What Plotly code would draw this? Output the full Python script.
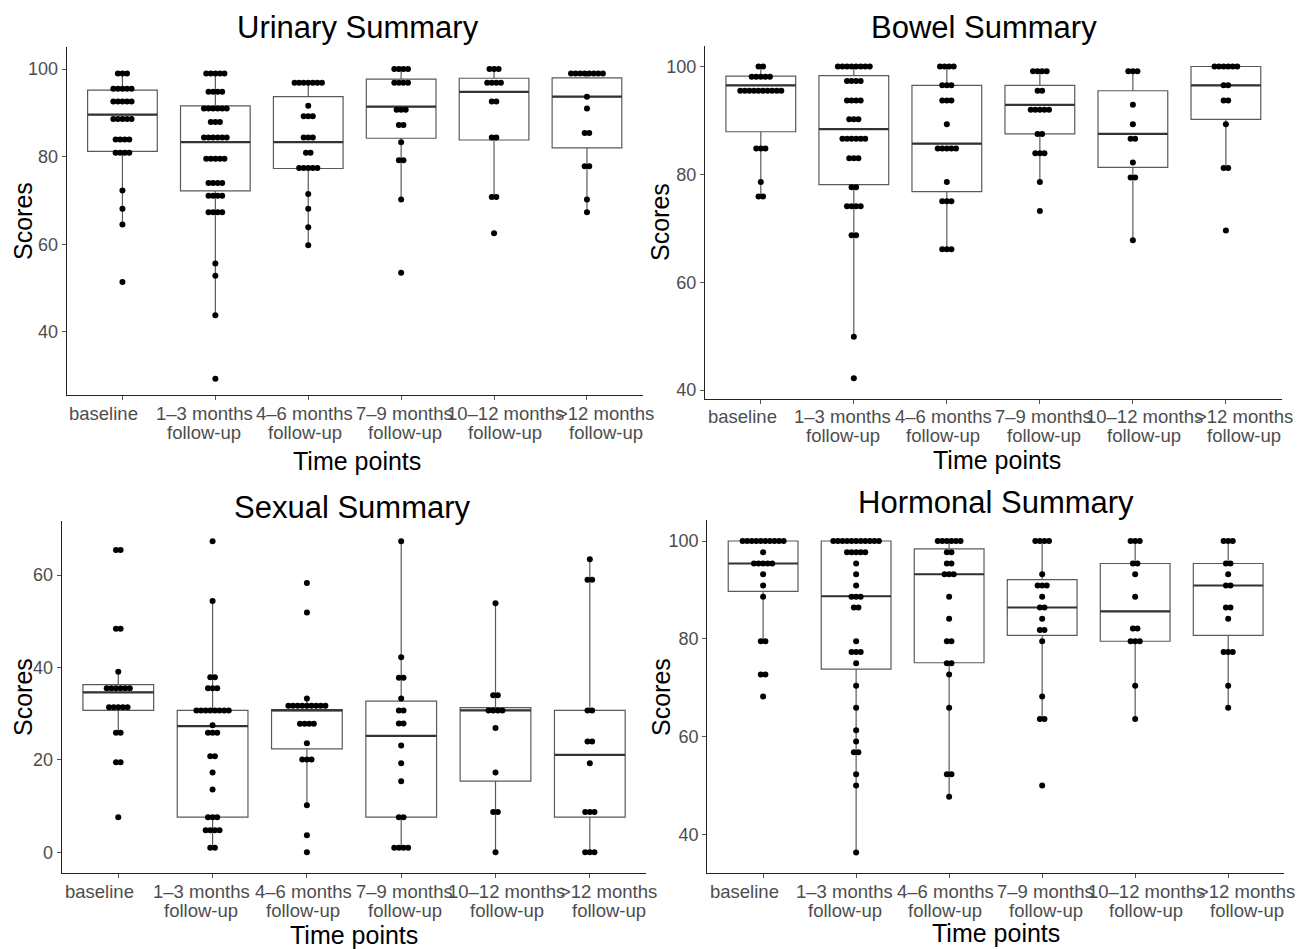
import plotly.graph_objects as go

W, H = 1304, 949

CATS_TOP = ["baseline", "1–3 months", "4–6 months", "7–9 months", "10–12 months", ">12 months"]
CATS_BOTTOM = ["", "follow-up", "follow-up", "follow-up", "follow-up", "follow-up"]

# ---- Urinary ----
URINARY_DOTS = [
    [(99.0, 3), (95.5, 5), (92.6, 5), (88.6, 5), (83.9, 4), (80.9, 4), (72.3, 1), (68.1, 1), (64.5, 1), (51.4, 1)],
    [(99.0, 5), (94.8, 4), (91.0, 6), (87.9, 3), (84.4, 6), (79.5, 5), (74.0, 4), (71.1, 4), (67.3, 4),
     (55.6, 1), (52.8, 1), (43.8, 1), (29.3, 1)],
    [(96.9, 7), (91.6, 1), (89.2, 3), (84.4, 3), (80.9, 2), (77.4, 5), (71.5, 1), (68.1, 1), (63.9, 1), (59.8, 1)],
    [(100.0, 4), (96.9, 4), (90.7, 3), (87.2, 2), (83.3, 1), (79.2, 2), (70.2, 1), (53.5, 1)],
    [(100.0, 3), (96.9, 4), (92.6, 2), (84.4, 2), (70.8, 2), (62.5, 1)],
    [(99.0, 8), (93.7, 1), (91.0, 1), (85.4, 2), (77.8, 2), (70.2, 1), (67.3, 1)],
]
URINARY_Q1 = [81.2, 72.2, 77.3, 84.2, 83.8, 82.0]
URINARY_MED = [89.6, 83.3, 83.3, 91.4, 94.8, 93.7]
URINARY_Q3 = [95.2, 91.6, 93.7, 97.7, 97.9, 98.0]
URINARY_LO = [64.5, 43.8, 59.8, 70.2, 70.8, 67.3]
URINARY_HI = [99.0, 99.0, 96.9, 100.0, 100.0, 99.0]

# ---- Bowel ----
BOWEL_DOTS = [
    [(100.0, 2), (98.1, 5), (95.5, 10), (84.8, 3), (78.6, 1), (75.9, 2)],
    [(100.0, 8), (97.3, 4), (93.7, 4), (90.2, 3), (86.6, 6), (83.0, 3), (77.6, 2), (74.1, 4), (68.7, 2),
     (49.9, 1), (42.2, 1)],
    [(100.0, 4), (96.5, 3), (93.7, 3), (89.3, 1), (84.8, 5), (78.6, 1), (75.0, 3), (66.1, 3)],
    [(99.1, 4), (95.5, 2), (92.0, 5), (87.5, 2), (83.9, 3), (78.6, 1), (73.2, 1)],
    [(99.1, 3), (92.9, 1), (89.3, 1), (86.6, 2), (82.2, 1), (79.4, 2), (67.8, 1)],
    [(100.0, 6), (96.5, 2), (93.7, 2), (89.3, 1), (81.2, 2), (69.6, 1)],
]
BOWEL_Q1 = [87.9, 78.1, 76.8, 87.5, 81.3, 90.2]
BOWEL_MED = [96.5, 88.4, 85.7, 92.9, 87.5, 96.5]
BOWEL_Q3 = [98.2, 98.3, 96.5, 96.5, 95.5, 100.0]
BOWEL_LO = [75.9, 49.9, 66.1, 78.6, 67.8, 81.2]
BOWEL_HI = [100.0, 100.0, 100.0, 99.1, 99.1, 100.0]

# ---- Sexual ----
SEXUAL_DOTS = [
    [(65.4, 2), (48.4, 2), (39.1, 1), (35.5, 6), (31.4, 5), (25.9, 2), (19.5, 2), (7.6, 1)],
    [(67.3, 1), (54.4, 1), (37.9, 2), (35.5, 3), (30.7, 8), (27.5, 1), (25.9, 3), (20.8, 2), (17.3, 1),
     (13.6, 1), (7.6, 3), (4.8, 4), (1.0, 2)],
    [(58.3, 1), (51.9, 1), (33.3, 1), (31.7, 9), (27.8, 4), (23.6, 1), (20.1, 3), (10.2, 1), (3.7, 1), (0.0, 1)],
    [(67.3, 1), (42.2, 1), (37.8, 2), (33.3, 1), (30.7, 2), (27.9, 2), (23.1, 1), (19.3, 1), (15.4, 1),
     (7.6, 2), (1.0, 4)],
    [(53.9, 1), (34.0, 2), (30.7, 4), (26.9, 1), (17.3, 1), (8.7, 2), (0.0, 1)],
    [(63.4, 1), (59.0, 2), (30.7, 2), (24.0, 2), (19.3, 1), (8.7, 3), (0.0, 3)],
]
SEXUAL_Q1 = [30.7, 7.6, 22.4, 7.6, 15.4, 7.6]
SEXUAL_MED = [34.6, 27.3, 30.7, 25.2, 30.7, 21.1]
SEXUAL_Q3 = [36.3, 30.7, 30.9, 32.7, 31.3, 30.7]
SEXUAL_LO = [25.9, 1.0, 10.2, 1.0, 0.0, 0.0]
SEXUAL_HI = [39.1, 54.4, 33.3, 67.3, 53.9, 63.4]

# ---- Hormonal ----
HORMONAL_DOTS = [
    [(100.0, 10), (97.7, 1), (95.4, 5), (93.2, 1), (90.9, 1), (88.6, 1), (79.5, 2), (72.7, 2), (68.2, 1)],
    [(100.0, 11), (97.7, 5), (95.4, 1), (93.2, 1), (90.9, 1), (88.6, 3), (86.4, 2), (79.5, 1), (77.3, 3),
     (75.0, 1), (70.4, 1), (65.9, 1), (61.3, 1), (59.0, 1), (56.8, 2), (52.3, 1), (50.0, 1), (36.3, 1)],
    [(100.0, 6), (97.7, 2), (95.4, 2), (93.2, 3), (88.6, 1), (84.1, 1), (79.5, 2), (75.0, 2), (72.7, 1),
     (65.9, 1), (52.3, 2), (47.7, 1)],
    [(100.0, 4), (93.2, 1), (90.9, 3), (88.6, 1), (86.4, 2), (84.1, 1), (81.8, 2), (79.5, 1), (68.2, 1),
     (63.6, 2), (50.0, 1)],
    [(100.0, 3), (95.4, 2), (93.2, 1), (88.6, 1), (82.1, 2), (79.5, 3), (70.4, 1), (63.6, 1)],
    [(100.0, 3), (95.4, 2), (93.2, 1), (90.9, 2), (86.4, 2), (84.1, 1), (77.3, 3), (70.4, 1), (65.9, 1)],
]
HORMONAL_Q1 = [89.7, 73.8, 75.1, 80.7, 79.5, 80.7]
HORMONAL_MED = [95.4, 88.7, 93.2, 86.4, 85.6, 90.9]
HORMONAL_Q3 = [100.0, 100.0, 98.4, 92.1, 95.4, 95.4]
HORMONAL_LO = [79.5, 36.3, 47.7, 63.6, 63.6, 65.9]
HORMONAL_HI = [100.0, 100.0, 100.0, 100.0, 100.0, 100.0]

FONT = "Liberation Sans, Arial, Helvetica, sans-serif"

PANELS = [
    dict(title="Urinary Summary", dots=URINARY_DOTS, q1=URINARY_Q1, med=URINARY_MED, q3=URINARY_Q3,
         lo=URINARY_LO, hi=URINARY_HI, px=(66.7, 642.7), py=(46.7, 395.0), yr=(25.6, 105.1),
         yt=[40, 60, 80, 100], tpos=(358, 28), xlab=(357, 461), ylab=(23, 221)),
    dict(title="Bowel Summary", dots=BOWEL_DOTS, q1=BOWEL_Q1, med=BOWEL_MED, q3=BOWEL_Q3,
         lo=BOWEL_LO, hi=BOWEL_HI, px=(705.0, 1281.7), py=(46.0, 399.0), yr=(38.35, 103.8),
         yt=[40, 60, 80, 100], tpos=(984, 28), xlab=(997, 460), ylab=(660, 222)),
    dict(title="Sexual Summary", dots=SEXUAL_DOTS, q1=SEXUAL_Q1, med=SEXUAL_MED, q3=SEXUAL_Q3,
         lo=SEXUAL_LO, hi=SEXUAL_HI, px=(61.7, 646.4), py=(521.0, 873.3), yr=(-4.54, 71.7),
         yt=[0, 20, 40, 60], tpos=(352, 507), xlab=(354, 935), ylab=(23, 697)),
    dict(title="Hormonal Summary", dots=HORMONAL_DOTS, q1=HORMONAL_Q1, med=HORMONAL_MED, q3=HORMONAL_Q3,
         lo=HORMONAL_LO, hi=HORMONAL_HI, px=(707.3, 1284.0), py=(520.0, 873.0), yr=(32.1, 104.3),
         yt=[40, 60, 80, 100], tpos=(996, 503), xlab=(996, 933), ylab=(661, 697)),
]

XPOS = [1, 2, 3, 4, 5, 6]
BOXW = 0.75
STEP = 0.049
LABEL_SPREAD = 1.08   # category labels are spread slightly wider than the ticks in the original

fig = go.Figure()
annotations = []
layout_axes = {}
TICKFONT = dict(family=FONT, size=18.5, color="#4d4d4d")

for i, p in enumerate(PANELS):
    k = "" if i == 0 else str(i + 1)
    xa, ya = "x" + k, "y" + k
    fig.add_trace(go.Box(
        x=XPOS, q1=p["q1"], median=p["med"], q3=p["q3"],
        lowerfence=p["lo"], upperfence=p["hi"],
        width=BOXW, whiskerwidth=0, boxpoints=False,
        fillcolor="white", line=dict(color="#5a5a5a", width=1.2),
        xaxis=xa, yaxis=ya, showlegend=False, hoverinfo="skip"))
    mx, my = [], []
    for xi, m in zip(XPOS, p["med"]):
        mx += [xi - BOXW / 2, xi + BOXW / 2, None]
        my += [m, m, None]
    fig.add_trace(go.Scatter(x=mx, y=my, mode="lines", line=dict(color="#333333", width=2.2),
                             xaxis=xa, yaxis=ya, showlegend=False, hoverinfo="skip"))
    dx, dy = [], []
    for xi, group in zip(XPOS, p["dots"]):
        for val, n in group:
            for j in range(n):
                dx.append(xi + (j - (n - 1) / 2) * STEP)
                dy.append(val)
    fig.add_trace(go.Scatter(x=dx, y=dy, mode="markers",
                             marker=dict(color="black", size=6, line=dict(width=0)),
                             xaxis=xa, yaxis=ya, showlegend=False, hoverinfo="skip"))

    x0, x1 = p["px"]
    yt0, yb = p["py"]
    layout_axes["xaxis" + k] = dict(
        domain=[x0 / W, x1 / W], anchor=ya, range=[0.4, 6.6], automargin=False,
        tickmode="array", tickvals=XPOS, showticklabels=False,
        showline=True, linecolor="#222222", linewidth=1.1, mirror=False,
        ticks="outside", ticklen=4, tickcolor="#555555", tickwidth=1,
        showgrid=False, zeroline=False, fixedrange=True)
    layout_axes["yaxis" + k] = dict(
        domain=[1 - yb / H, 1 - yt0 / H], anchor=xa, range=list(p["yr"]), automargin=False,
        tickmode="array", tickvals=p["yt"], ticktext=[str(t) for t in p["yt"]],
        showline=True, linecolor="#222222", linewidth=1.1,
        ticks="outside", ticklen=4, tickcolor="#555555", tickwidth=1,
        tickfont=dict(family=FONT, size=18, color="#4d4d4d"),
        showgrid=False, zeroline=False, fixedrange=True)

    mid = (XPOS[0] + XPOS[-1]) / 2
    for xi, top, bot in zip(XPOS, CATS_TOP, CATS_BOTTOM):
        lx_ = mid + (xi - mid) * LABEL_SPREAD
        annotations.append(dict(text=top, x=lx_, xref=xa, y=1 - (yb + 18) / H, yref="paper",
                                xanchor="center", yanchor="middle", showarrow=False, font=TICKFONT))
        if bot:
            annotations.append(dict(text=bot, x=lx_, xref=xa, y=1 - (yb + 37) / H, yref="paper",
                                    xanchor="center", yanchor="middle", showarrow=False, font=TICKFONT))

    tx, ty = p["tpos"]
    annotations.append(dict(text=p["title"], x=tx / W, y=1 - ty / H, xref="paper", yref="paper",
                            xanchor="center", yanchor="middle", showarrow=False,
                            font=dict(family=FONT, size=31, color="black")))
    lx, ly = p["xlab"]
    annotations.append(dict(text="Time points", x=lx / W, y=1 - ly / H, xref="paper", yref="paper",
                            xanchor="center", yanchor="middle", showarrow=False,
                            font=dict(family=FONT, size=25, color="black")))
    sx, sy = p["ylab"]
    annotations.append(dict(text="Scores", x=sx / W, y=1 - sy / H, xref="paper", yref="paper",
                            xanchor="center", yanchor="middle", showarrow=False, textangle=-90,
                            font=dict(family=FONT, size=25, color="black")))

fig.update_layout(
    width=W, height=H, margin=dict(l=0, r=0, t=0, b=0, autoexpand=False),
    paper_bgcolor="white", plot_bgcolor="white",
    showlegend=False, annotations=annotations, **layout_axes)

fig.write_html("out.html", config={"displayModeBar": False},
               post_script="document.body.style.margin='0px';document.body.style.padding='0px';")
